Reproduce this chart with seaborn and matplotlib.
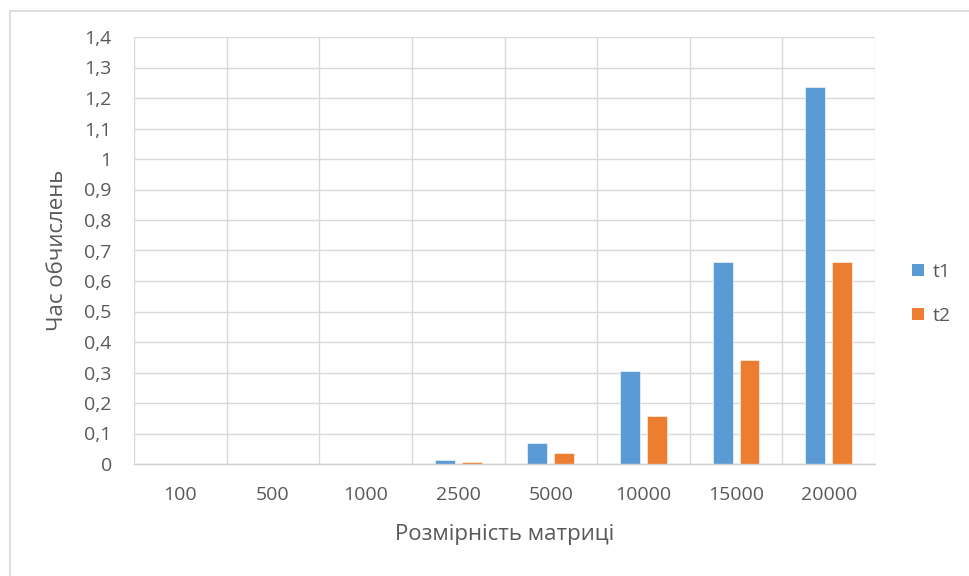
import matplotlib
matplotlib.use("Agg")
import matplotlib.pyplot as plt
from matplotlib.ticker import FuncFormatter, FixedLocator, MultipleLocator
from matplotlib.lines import Line2D
import seaborn as sns
import pandas as pd

# Matrix sizes and computation times for the two runs
sizes = ["100", "500", "1000", "2500", "5000", "10000", "15000", "20000"]
t1 = [0.0, 0.0, 0.0, 0.013, 0.069, 0.305, 0.662, 1.236]
t2 = [0.0, 0.0, 0.0, 0.007, 0.036, 0.157, 0.341, 0.662]
series_names = ["t1", "t2"]
colors = ["#5B9BD5", "#ED7D31"]

df = pd.DataFrame({
    "size": sizes * 2,
    "time": t1 + t2,
    "series": [series_names[0]] * len(sizes) + [series_names[1]] * len(sizes),
})

sns.set_theme(style="white")
plt.rcParams["font.family"] = ["Open Sans", "DejaVu Sans"]
text_color = "#595959"
grid_color = "#d9d9d9"

fig = plt.figure(figsize=(9.69, 5.76), dpi=100)
ax = fig.add_axes([134 / 969, 1 - 464 / 576, (875 - 134) / 969, (464 - 37) / 576])

sns.barplot(data=df, x="size", y="time", hue="series", order=sizes,
            hue_order=series_names, palette=colors, width=0.58, gap=0.26,
            edgecolor="white", linewidth=0.4, saturation=1, ax=ax, legend=False)

ax.set_xlim(-0.5, len(sizes) - 0.5)
ax.set_ylim(0, 1.4)
ax.yaxis.set_major_locator(MultipleLocator(0.1))

def comma_fmt(v, pos):
    s = f"{v:.1f}"
    if s.endswith(".0"):
        s = s[:-2]
    return s.replace(".", ",")

ax.yaxis.set_major_formatter(FuncFormatter(comma_fmt))

# Horizontal grid at value ticks, vertical grid at category boundaries
ax.xaxis.set_minor_locator(FixedLocator([i - 0.5 for i in range(len(sizes) + 1)]))
ax.grid(axis="y", which="major", color=grid_color, linewidth=1)
ax.grid(axis="x", which="minor", color=grid_color, linewidth=1)
ax.grid(axis="x", which="major", visible=False)
ax.set_axisbelow(True)

for side in ["top", "right", "left"]:
    ax.spines[side].set_visible(False)
ax.spines["bottom"].set_color("#cfcfcf")
ax.spines["bottom"].set_linewidth(1)

ax.tick_params(axis="both", which="both", length=0, labelsize=14, colors=text_color)
ax.tick_params(axis="y", pad=16)
ax.tick_params(axis="x", pad=16)

ax.set_xlabel("Розмірність матриці", fontsize=16, color=text_color, labelpad=14)
ax.set_ylabel("Час обчислень", fontsize=16, color=text_color, labelpad=12)

handles = [plt.Rectangle((0, 0), 1, 1, facecolor=c, edgecolor="none") for c in colors]
fig.legend(handles, series_names, loc="center left",
           bbox_to_anchor=(912 / 969, 1 - 294 / 576), frameon=False,
           fontsize=14, labelcolor=text_color, handlelength=0.6, handleheight=0.6,
           handletextpad=0.45, labelspacing=1.35, borderpad=0, borderaxespad=0)

# Chart frame (top and left edges)
fig.add_artist(Line2D([9.5 / 969, 9.5 / 969], [0, 1 - 10.5 / 576],
                      transform=fig.transFigure, color="#d9d9d9", linewidth=1.2))
fig.add_artist(Line2D([9.5 / 969, 1], [1 - 10.5 / 576, 1 - 10.5 / 576],
                      transform=fig.transFigure, color="#d9d9d9", linewidth=1.2))

fig.savefig("out.png", dpi=100, facecolor="white")
